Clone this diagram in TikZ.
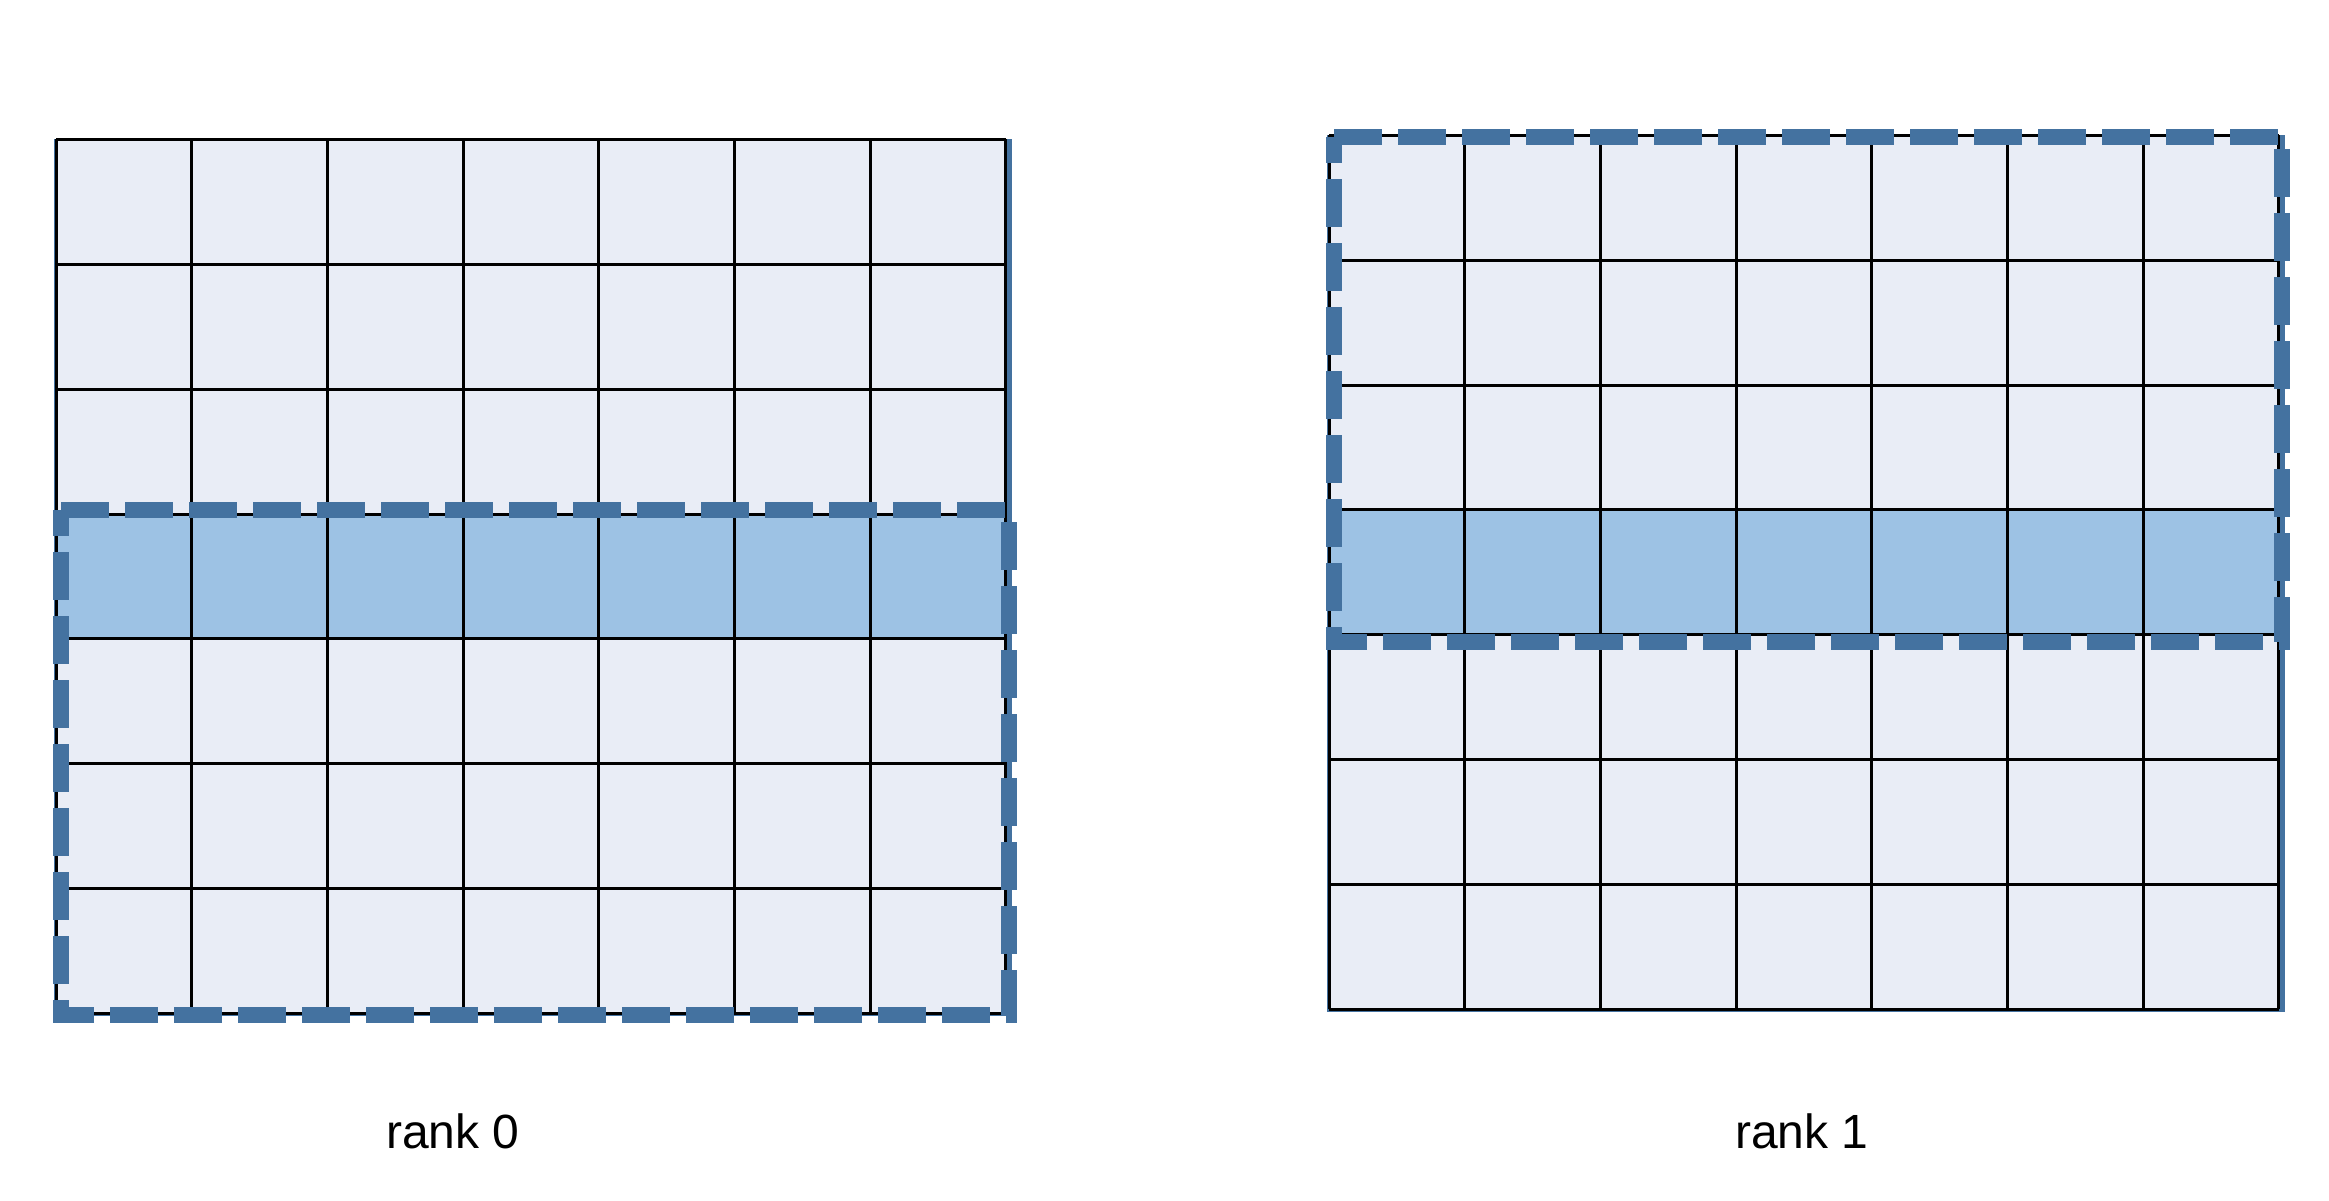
\documentclass[tikz,border=0pt]{standalone}
\usepackage{fontspec}
\setmainfont{Liberation Sans}
\definecolor{dashblue}{RGB}{68,114,160}
\definecolor{cellfill}{RGB}{233,237,246}
\definecolor{hifill}{RGB}{157,194,228}
\tikzset{
  gridline/.style={black, line width=3pt},
  halobox/.style={draw=dashblue, line width=16pt, dash pattern=on 48pt off 16pt, line join=miter},
  ranklabel/.style={font=\fontsize{48}{58}\selectfont, anchor=base, inner sep=0pt}
}
\begin{document}
\begin{tikzpicture}[x=1pt,y=-1pt]
\useasboundingbox (0,0) rectangle (2329,1201);

% ---------- rank 0 grid ----------
\def\gx{56}\def\gy{139.3}\def\cw{135.67}\def\ch{124.91}
\fill[dashblue] (54,139.3) rectangle (1012,1016);
\fill[cellfill] (\gx,\gy) rectangle ({\gx+7*\cw},{\gy+7*\ch});
\fill[hifill] (\gx,{\gy+3*\ch}) rectangle ({\gx+7*\cw},{\gy+4*\ch});
\foreach \i in {0,...,7}{
  \draw[gridline] ({\gx+\i*\cw},\gy) -- ({\gx+\i*\cw},{\gy+7*\ch});
  \draw[gridline] (\gx,{\gy+\i*\ch}) -- ({\gx+7*\cw},{\gy+\i*\ch});
}
\coordinate (a1) at (61,510);
\coordinate (a2) at (1009,510);
\coordinate (a3) at (1009,1015);
\coordinate (a4) at (61,1015);
\draw[halobox] (a1) -- (a2) -- (a3) -- (a4) -- cycle;

% ---------- rank 1 grid ----------
\def\hx{1329.3}\def\hy{135.3}\def\dw{135.63}\def\dh{124.85}
\fill[dashblue] (1327,135.3) rectangle (2285,1012);
\fill[cellfill] (\hx,\hy) rectangle ({\hx+7*\dw},{\hy+7*\dh});
\fill[hifill] (\hx,{\hy+3*\dh}) rectangle ({\hx+7*\dw},{\hy+4*\dh});
\foreach \i in {0,...,7}{
  \draw[gridline] ({\hx+\i*\dw},\hy) -- ({\hx+\i*\dw},{\hy+7*\dh});
  \draw[gridline] (\hx,{\hy+\i*\dh}) -- ({\hx+7*\dw},{\hy+\i*\dh});
}
\coordinate (b1) at (1334,137);
\coordinate (b2) at (2282,137);
\coordinate (b3) at (2282,642);
\coordinate (b4) at (1334,642);
\draw[halobox] (b1) -- (b2) -- (b3) -- (b4) -- cycle;

% ---------- labels ----------
\node[ranklabel] (r0) at (453,1148) {rank 0};
\node[ranklabel] (r1) at (1802,1148) {rank 1};
\end{tikzpicture}
\end{document}
